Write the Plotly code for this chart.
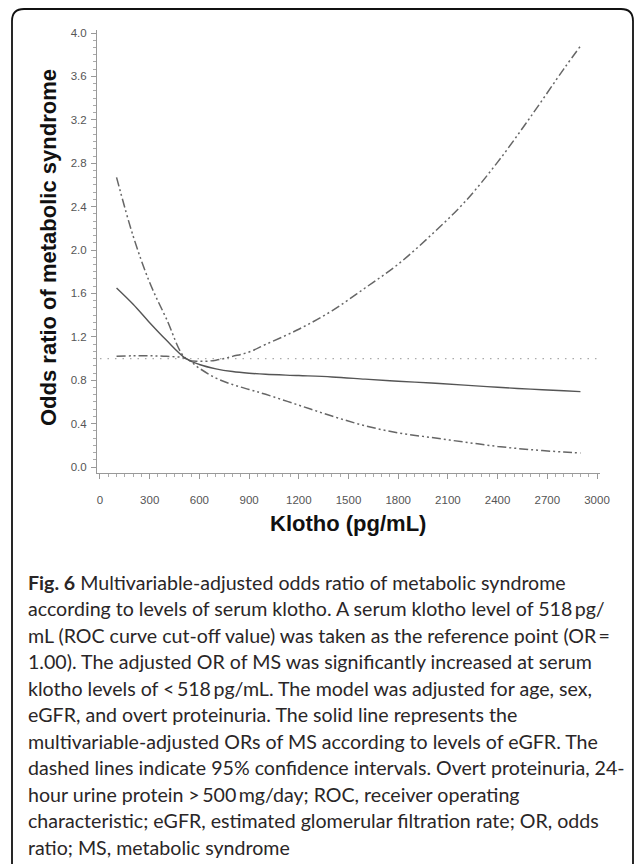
import plotly.graph_objects as go

# Serum klotho (pg/mL) at which the spline curves are evaluated
klotho = [100, 200, 300, 400, 518, 600, 700, 800, 900, 1000, 1200, 1400,
          1600, 1800, 2000, 2200, 2400, 2600, 2800, 2900]

# Multivariable-adjusted odds ratio of metabolic syndrome
or_adj = [1.65, 1.50, 1.33, 1.17, 1.00, 0.945, 0.905, 0.88, 0.865, 0.855, 0.843,
          0.83, 0.81, 0.79, 0.775, 0.755, 0.735, 0.718, 0.703, 0.695]

# 95% confidence limits
ci_upper = [2.67, 2.13, 1.70, 1.37, 1.00, 0.975, 0.985, 1.02, 1.06, 1.13, 1.27,
            1.44, 1.65, 1.87, 2.14, 2.44, 2.81, 3.23, 3.67, 3.88]
ci_lower = [1.02, 1.025, 1.025, 1.02, 1.00, 0.91, 0.82, 0.76, 0.715, 0.67, 0.57,
            0.47, 0.38, 0.315, 0.272, 0.23, 0.19, 0.16, 0.138, 0.13]

# Reference line OR = 1.00
ref_x = [0, 3000]
ref_y = [1.0, 1.0]

x_ticks = [0, 300, 600, 900, 1200, 1500, 1800, 2100, 2400, 2700, 3000]
y_ticks = [0.0, 0.4, 0.8, 1.2, 1.6, 2.0, 2.4, 2.8, 3.2, 3.6, 4.0]

caption_lines = [
    "<b>Fig. 6</b> Multivariable-adjusted odds ratio of metabolic syndrome",
    "according to levels of serum klotho. A serum klotho level of 518\u2009pg/",
    "mL (ROC curve cut-off value) was taken as the reference point (OR\u2009=",
    "1.00). The adjusted OR of MS was significantly increased at serum",
    "klotho levels of &lt;\u2009518\u2009pg/mL. The model was adjusted for age, sex,",
    "eGFR, and overt proteinuria. The solid line represents the",
    "multivariable-adjusted ORs of MS according to levels of eGFR. The",
    "dashed lines indicate 95% confidence intervals. Overt proteinuria, 24-",
    "hour urine protein &gt;\u2009500\u2009mg/day; ROC, receiver operating",
    "characteristic; eGFR, estimated glomerular filtration rate; OR, odds",
    "ratio; MS, metabolic syndrome",
]

W, H = 634, 864
ML, MR, MT, MB = 97, 34, 30, 391
PW, PH = W - ML - MR, H - MT - MB


def px(xp):
    return (xp - ML) / PW


def py(yp):
    return (H - MB - yp) / PH


ci_dash = "9px,3px,2px,3px,2px,3px"

fig = go.Figure()
fig.add_trace(go.Scatter(x=ref_x, y=ref_y, mode="lines",
                         line=dict(color="#aaaaaa", width=1.2, dash="1.5px,6px"),
                         hoverinfo="skip"))
fig.add_trace(go.Scatter(x=klotho, y=ci_upper, mode="lines", line_shape="spline",
                         line=dict(color="#666666", width=1.5, dash=ci_dash)))
fig.add_trace(go.Scatter(x=klotho, y=ci_lower, mode="lines", line_shape="spline",
                         line=dict(color="#666666", width=1.5, dash=ci_dash)))
fig.add_trace(go.Scatter(x=klotho, y=or_adj, mode="lines", line_shape="spline",
                         line=dict(color="#555555", width=1.4)))

tick_font = dict(family="Liberation Sans, Arial", size=11.5, color="#555555")

fig.update_xaxes(range=[-18, 3018], tickvals=x_ticks, ticktext=[str(v) for v in x_ticks],
                 showgrid=False, zeroline=False, showline=True, linecolor="#999999",
                 linewidth=1, ticks="outside", ticklen=5, tickcolor="#999999",
                 tickfont=tick_font, ticklabelstandoff=11,
                 minor=dict(dtick=50, tick0=0, ticks="outside", ticklen=3,
                            tickcolor="#aaaaaa", showgrid=False))
fig.update_yaxes(range=[-0.055, 4.028], tickvals=y_ticks,
                 ticktext=[f"{v:.1f}" for v in y_ticks],
                 showgrid=False, zeroline=False, showline=True, linecolor="#999999",
                 linewidth=1, ticks="outside", ticklen=5, tickcolor="#999999",
                 tickfont=tick_font, ticklabelstandoff=2,
                 minor=dict(dtick=0.4 / 6, tick0=0, ticks="outside", ticklen=3,
                            tickcolor="#aaaaaa", showgrid=False))

annotations = [
    dict(text="<b>Odds ratio of metabolic syndrome</b>", textangle=-90,
         x=px(48), y=py(248), xref="paper", yref="paper", showarrow=False,
         xanchor="center", yanchor="middle",
         font=dict(family="Liberation Sans, Arial", size=22, color="#111111")),
    dict(text="<b>Klotho (pg/mL)</b>",
         x=px(348), y=py(523), xref="paper", yref="paper", showarrow=False,
         xanchor="center", yanchor="middle",
         font=dict(family="Liberation Sans, Arial", size=22, color="#111111")),
]
for i, line in enumerate(caption_lines):
    annotations.append(dict(text=line, x=px(26), y=py(582 + 26.5 * i),
                            xref="paper", yref="paper", showarrow=False,
                            xanchor="left", yanchor="middle",
                            font=dict(family="Lato, Open Sans", size=19.6,
                                      color="#2a2627")))

# Rounded frame around the figure and caption
x0, x1, y0, y1, r = px(12), px(633), py(9), py(878), 12
rx, ry = r / PW, r / PH
frame = (f"M {x0 + rx} {y0} L {x1 - rx} {y0} Q {x1} {y0} {x1} {y0 - ry} "
         f"L {x1} {y1 + ry} Q {x1} {y1} {x1 - rx} {y1} "
         f"L {x0 + rx} {y1} Q {x0} {y1} {x0} {y1 + ry} "
         f"L {x0} {y0 - ry} Q {x0} {y0} {x0 + rx} {y0} Z")

fig.update_layout(
    width=W, height=H, autosize=False,
    margin=dict(l=ML, r=MR, t=MT, b=MB, pad=0),
    paper_bgcolor="white", plot_bgcolor="white",
    showlegend=False,
    annotations=annotations,
    shapes=[dict(type="path", path=frame, xref="paper", yref="paper",
                 line=dict(color="#111111", width=1.8), layer="above")],
)

fig.write_html("out.html", config={"displayModeBar": False})
